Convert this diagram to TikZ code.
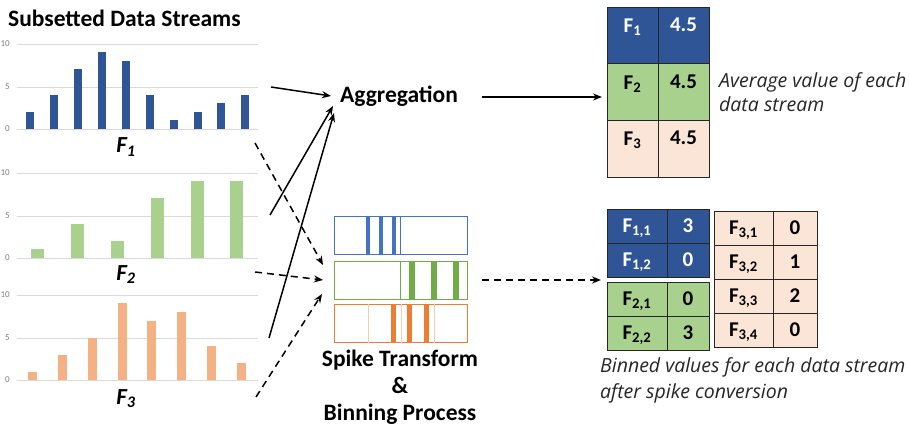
\documentclass[tikz,border=0pt]{standalone}
\usepackage{fontspec}
\setmainfont{Carlito}
\newfontfamily\notefont{Open Sans}
\usetikzlibrary{arrows.meta}
\definecolor{dblue}{HTML}{2F5597}
\definecolor{lgreen}{HTML}{A9D18E}
\definecolor{lorange}{HTML}{F4B183}
\definecolor{peach}{HTML}{FBE5D6}
\definecolor{sblue}{HTML}{4472C4}
\definecolor{sgreen}{HTML}{70AD47}
\definecolor{sorange}{HTML}{ED7D31}
\definecolor{slight}{HTML}{F8CBAD}
\definecolor{gridc}{HTML}{D9D9D9}
\definecolor{tickc}{HTML}{7F7F7F}
\tikzset{
  grid/.style={draw=gridc, line width=0.8pt},
  tick/.style={anchor=east, inner sep=0pt, text=tickc, font=\fontsize{9}{10}\selectfont},
  bigtxt/.style={inner sep=0pt, font=\fontsize{23.5}{27}\selectfont\bfseries},
  flab/.style={inner sep=0pt, anchor=base, font=\fontsize{23}{27}\selectfont\bfseries\itshape},
  solidarrow/.style={line width=1.5pt, -{Stealth[length=9pt,width=7pt]}},
  dasharrow/.style={line width=1.5pt, dash pattern=on 7pt off 5pt, -{Stealth[length=9pt,width=7pt]}},
  spikebox/.style={draw, line width=0.9pt, inner sep=0pt, outer sep=0pt, minimum width=133pt, minimum height=38pt},
  cell/.style={draw=black!85, line width=0.9pt, inner sep=0pt, outer sep=0pt, anchor=north west},
  celltxt/.style={inner sep=0pt, font=\fontsize{21}{24}\selectfont\bfseries},
  note/.style={inner sep=0pt, anchor=base west, font=\notefont\fontsize{19.5}{22}\selectfont\itshape, text=black!85}
}
\begin{document}
\begin{tikzpicture}[x=1pt,y=-1pt]
\useasboundingbox (0,0) rectangle (910,430);

% title
\node[bigtxt, anchor=base west] (title) at (8,27) {Subsetted Data Streams};

% chart 1
\foreach \yy in {44,87,129} \draw[grid] (17,\yy) -- (258,\yy);
\node[tick] (c1t10) at (10,44) {10};
\node[tick] (c1t5) at (10,87) {5};
\node[tick] (c1t0) at (10,129) {0};
\foreach \x/\v in {30/2,54/4,78/7,102/9,126/8,150/4,174/1,198/2,221/3,245/4}
  \fill[dblue] (\x-4,129) rectangle (\x+4,129-\v*8.5);
\node[flab] (f1) at (126,153) {F\textsubscript{1}};

% chart 2
\foreach \yy in {173,216,258} \draw[grid] (17,\yy) -- (258,\yy);
\node[tick] (c2t10) at (10,173) {10};
\node[tick] (c2t5) at (10,216) {5};
\node[tick] (c2t0) at (10,258) {0};
\foreach \x/\v in {37/1,77/4,117/2,157/7,197/9,236/9}
  \fill[lgreen] (\x-6.5,258) rectangle (\x+6.5,258-\v*8.5);
\node[flab] (f2) at (126,280) {F\textsubscript{2}};

% chart 3
\foreach \yy in {295,338,380} \draw[grid] (17,\yy) -- (258,\yy);
\node[tick] (c3t10) at (10,295) {10};
\node[tick] (c3t5) at (10,338) {5};
\node[tick] (c3t0) at (10,380) {0};
\foreach \x/\v in {32/1,62/3,92/5,122/9,151/7,181/8,211/4,241/2}
  \fill[lorange] (\x-4.5,380) rectangle (\x+4.5,380-\v*8.5);
\node[flab] (f3) at (126,404) {F\textsubscript{3}};

% Aggregation
\node[bigtxt, anchor=base west] (agg) at (340,103) {Aggregation};

% spike boxes
\node[spikebox, draw=sblue] (sb1) at (400.5,235) {};
\draw[sblue, line width=0.8pt] (400,216) -- (400,254);
\foreach \x in {368,381,394} \fill[sblue] (\x-2,216) rectangle (\x+2,254);
\node[spikebox, draw=sgreen] (sb2) at (400.5,280) {};
\draw[sgreen, line width=0.8pt] (400,261) -- (400,299);
\foreach \x in {412,434,456} \fill[sgreen] (\x-3,261) rectangle (\x+3,299);
\node[spikebox, draw=sorange] (sb3) at (400.5,323.5) {};
\foreach \x in {368,401,434} \draw[slight, line width=0.8pt] (\x,304.5) -- (\x,342.5);
\foreach \x in {393,409,426} \fill[sorange] (\x-2.5,304.5) rectangle (\x+2.5,342.5);

\node[bigtxt, anchor=base] (sp1) at (400,366) {Spike Transform};
\node[bigtxt, anchor=base] (sp2) at (400,393) {\&};
\node[bigtxt, anchor=base] (sp3) at (400,420) {Binning Process};

% connectors
\coordinate (a1s) at (271,87);  \coordinate (a1e) at (331,96);
\coordinate (a2s) at (270,215); \coordinate (a2e) at (333,106);
\coordinate (a3s) at (269,338); \coordinate (a3e) at (334,113);
\draw[solidarrow] (a1s) -- (a1e);
\draw[solidarrow] (a2s) -- (a2e);
\draw[solidarrow] (a3s) -- (a3e);
\coordinate (d1s) at (255,143); \coordinate (d1e) at (323,265);
\coordinate (d2s) at (255,272); \coordinate (d2e) at (323,280);
\coordinate (d3s) at (256,397); \coordinate (d3e) at (322,294);
\draw[dasharrow] (d1s) -- (d1e);
\draw[dasharrow] (d2s) -- (d2e);
\draw[dasharrow] (d3s) -- (d3e);
\coordinate (aggout) at (482,97); \coordinate (tab1in) at (602,97);
\draw[solidarrow] (aggout) -- (tab1in);
\coordinate (spkout) at (482,280); \coordinate (tab2in) at (601,280);
\draw[dasharrow] (spkout) -- (tab2in);

% table 1
\node[cell, fill=dblue, minimum width=51pt, minimum height=56pt] (t11) at (607,7) {};
\node[cell, fill=dblue, minimum width=51pt, minimum height=56pt] (t12) at (658,7) {};
\node[cell, fill=lgreen, minimum width=51pt, minimum height=57pt] (t21) at (607,63) {};
\node[cell, fill=lgreen, minimum width=51pt, minimum height=57pt] (t22) at (658,63) {};
\node[cell, fill=peach, minimum width=51pt, minimum height=57pt] (t31) at (607,120) {};
\node[cell, fill=peach, minimum width=51pt, minimum height=57pt] (t32) at (658,120) {};
\node[celltxt, text=white] (l11) at (632.5,27) {F\textsubscript{1}};
\node[celltxt, text=white] (l12) at (683.5,25) {4.5};
\node[celltxt] (l21) at (632.5,84) {F\textsubscript{2}};
\node[celltxt] (l22) at (683.5,82) {4.5};
\node[celltxt] (l31) at (632.5,140) {F\textsubscript{3}};
\node[celltxt] (l32) at (683.5,138) {4.5};
\node[note] (n1a) at (719,88) {Average value of each};
\node[note] (n1b) at (719,112) {data stream};

% table 2 (F1, F2)
\node[cell, fill=dblue, minimum width=60pt, minimum height=34pt] (b11) at (607,209) {};
\node[cell, fill=dblue, minimum width=42pt, minimum height=34pt] (b12) at (667,209) {};
\node[cell, fill=dblue, minimum width=60pt, minimum height=34pt] (b21) at (607,243) {};
\node[cell, fill=dblue, minimum width=42pt, minimum height=34pt] (b22) at (667,243) {};
\node[cell, fill=lgreen, minimum width=60pt, minimum height=34pt] (g11) at (607,282) {};
\node[cell, fill=lgreen, minimum width=42pt, minimum height=34pt] (g12) at (667,282) {};
\node[cell, fill=lgreen, minimum width=60pt, minimum height=34pt] (g21) at (607,316) {};
\node[cell, fill=lgreen, minimum width=42pt, minimum height=34pt] (g22) at (667,316) {};
\node[celltxt, text=white] (lb11) at (637,228) {F\textsubscript{1,1}};
\node[celltxt, text=white] (lb12) at (688,226) {3};
\node[celltxt, text=white] (lb21) at (637,262) {F\textsubscript{1,2}};
\node[celltxt, text=white] (lb22) at (688,260) {0};
\node[celltxt] (lg11) at (637,301) {F\textsubscript{2,1}};
\node[celltxt] (lg12) at (688,299) {0};
\node[celltxt] (lg21) at (637,335) {F\textsubscript{2,2}};
\node[celltxt] (lg22) at (688,333) {3};

% table 3 (F3)
\foreach \i/\yy/\v in {1/211/0,2/245/1,3/279/2,4/313/0} {
  \node[cell, fill=peach, minimum width=59pt, minimum height=34pt] (p\i a) at (714,\yy) {};
  \node[cell, fill=peach, minimum width=44pt, minimum height=34pt] (p\i b) at (773,\yy) {};
  \node[celltxt] (lp\i a) at (743.5,\yy+19) {F\textsubscript{3,\i}};
  \node[celltxt] (lp\i b) at (795,\yy+17) {\v};
}
\node[note] (n2a) at (600,372) {Binned values for each data stream};
\node[note] (n2b) at (600,398) {after spike conversion};
\end{tikzpicture}
\end{document}
